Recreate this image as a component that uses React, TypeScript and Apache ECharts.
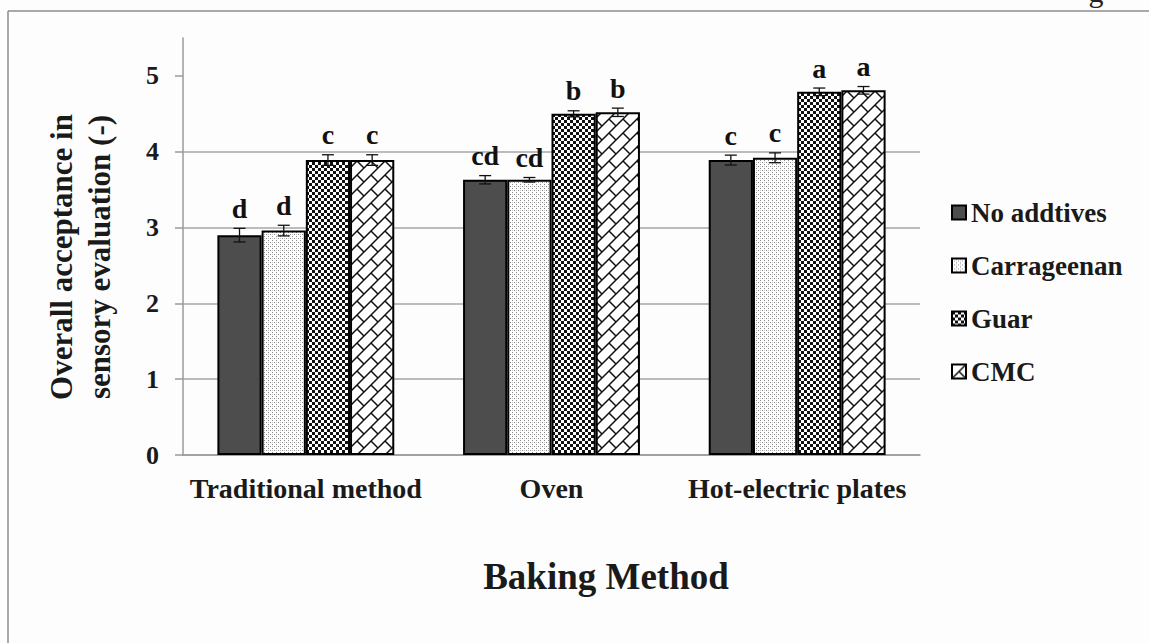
import React, { useEffect, useRef } from "react";
import * as echarts from "echarts";

const categories = ["Traditional method", "Oven", "Hot-electric plates"];
const seriesNames = ["No addtives", "Carrageenan", "Guar", "CMC"];

const noAdditives = [2.9, 3.63, 3.89];
const carrageenan = [2.96, 3.63, 3.92];
const guar = [3.89, 4.5, 4.79];
const cmc = [3.89, 4.52, 4.81];

const noAdditivesErr = [0.09, 0.055, 0.065];
const carrageenanErr = [0.07, 0.03, 0.065];
const guarErr = [0.07, 0.04, 0.05];
const cmcErr = [0.07, 0.055, 0.05];

const noAdditivesLetters = ["d", "cd", "c"];
const carrageenanLetters = ["d", "cd", "c"];
const guarLetters = ["c", "b", "a"];
const cmcLetters = ["c", "b", "a"];

const yTicks = [0, 1, 2, 3, 4, 5];
const yMax = 5.5;

const FONT = '"Liberation Serif", "Times New Roman", serif';
const GAP = 0.28;

function makeCanvas(size: number, draw: (ctx: CanvasRenderingContext2D) => void) {
  const c = document.createElement("canvas");
  c.width = size;
  c.height = size;
  const ctx = c.getContext("2d")!;
  ctx.fillStyle = "#ffffff";
  ctx.fillRect(0, 0, size, size);
  draw(ctx);
  return c;
}

function pattern(c: HTMLCanvasElement) {
  return { image: c.toDataURL(), repeat: "repeat", imageWidth: c.width, imageHeight: c.height } as any;
}

export default function App() {
  const ref = useRef<HTMLDivElement>(null);
  useEffect(() => {
    if (!ref.current) return;
    const chart = echarts.init(ref.current, undefined, { renderer: "svg" });

    const dotted = makeCanvas(4, (ctx) => {
      ctx.fillStyle = "#8a8a8a";
      ctx.fillRect(0, 0, 1, 1);
      ctx.fillRect(2, 2, 1, 1);
      ctx.fillStyle = "#c8c8c8";
      ctx.fillRect(0, 2, 1, 1);
    });
    const checker = makeCanvas(6, (ctx) => {
      ctx.fillStyle = "#111111";
      ctx.fillRect(0, 0, 3, 3);
      ctx.fillRect(3, 3, 3, 3);
    });
    const brick = makeCanvas(14, (ctx) => {
      ctx.strokeStyle = "#111111";
      ctx.lineWidth = 1.5;
      ctx.beginPath();
      ctx.moveTo(-7, 7);
      ctx.lineTo(7, -7);
      ctx.moveTo(-1, 15);
      ctx.lineTo(15, -1);
      ctx.moveTo(7, 21);
      ctx.lineTo(21, 7);
      ctx.moveTo(7, 7);
      ctx.lineTo(14, 14);
      ctx.stroke();
    });

    const fills = ["#4d4d4d", pattern(dotted), pattern(checker), pattern(brick)];
    const values = [noAdditives, carrageenan, guar, cmc];
    const errors = [noAdditivesErr, carrageenanErr, guarErr, cmcErr];
    const letters = [noAdditivesLetters, carrageenanLetters, guarLetters, cmcLetters];

    const errData: number[][] = [];
    const errLetters: string[] = [];
    values.forEach((vals, s) => {
      vals.forEach((v, c) => {
        errData.push([c, v, errors[s][c], s]);
        errLetters.push(letters[s][c]);
      });
    });

    const barSeries = seriesNames.map((name, s) => ({
      name,
      type: "bar",
      data: values[s],
      barGap: "0%",
      barCategoryGap: GAP * 100 + "%",
      itemStyle: { color: fills[s], borderColor: "#000000", borderWidth: 2 },
      z: 2,
    }));

    const option: any = {
      animation: false,
      backgroundColor: "#fdfdfd",
      grid: { left: 183, right: 229, top: 38, bottom: 188 },
      legend: {
        orient: "vertical",
        left: 951,
        top: 199,
        itemGap: 26,
        itemWidth: 14,
        itemHeight: 14,
        padding: 0,
        icon: "rect",
        data: seriesNames,
        textStyle: { fontFamily: FONT, fontWeight: "bold", fontSize: 27, color: "#1a1a1a" },
      },
      xAxis: {
        type: "category",
        data: categories,
        axisLine: { show: true, lineStyle: { color: "#9a9a9a", width: 1.5 } },
        axisTick: { show: false },
        axisLabel: { fontFamily: FONT, fontWeight: "bold", fontSize: 28, color: "#1a1a1a", margin: 19, interval: 0 },
        splitLine: { show: false },
      },
      yAxis: {
        type: "value",
        min: 0,
        max: yMax,
        interval: 1,
        axisLine: { show: true, lineStyle: { color: "#9a9a9a", width: 1.5 } },
        axisTick: { show: true, length: 8, customValues: yTicks, lineStyle: { color: "#9a9a9a", width: 1.5 } },
        axisLabel: {
          customValues: yTicks,
          fontFamily: FONT,
          fontWeight: "bold",
          fontSize: 26,
          color: "#1a1a1a",
          margin: 24,
        },
        splitLine: { show: true, showMaxLine: false, lineStyle: { color: "#a6a6a6", width: 1.5 } },
      },
      graphic: [
        { type: "line", shape: { x1: 8, y1: 11, x2: 1149, y2: 11 }, style: { stroke: "#8c8c8c", lineWidth: 1.5 } },
        { type: "line", shape: { x1: 8, y1: 11, x2: 8, y2: 643 }, style: { stroke: "#8c8c8c", lineWidth: 1.5 } },
        {
          type: "text",
          x: 1096,
          y: 6,
          style: { text: "g", font: '30px "Liberation Serif"', fill: "#222", textAlign: "center", textVerticalAlign: "bottom" },
        },
        {
          type: "text",
          x: 80,
          y: 257,
          rotation: Math.PI / 2,
          style: {
            text: "Overall acceptance in\nsensory evaluation (-)",
            font: 'bold 31px "Liberation Serif"',
            lineHeight: 38,
            fill: "#1a1a1a",
            textAlign: "center",
            textVerticalAlign: "middle",
          },
        },
        {
          type: "text",
          x: 606,
          y: 576,
          style: {
            text: "Baking Method",
            font: 'bold 37px "Liberation Serif"',
            fill: "#1a1a1a",
            textAlign: "center",
            textVerticalAlign: "middle",
          },
        },
      ],
      series: [
        ...barSeries,
        {
          type: "custom",
          z: 5,
          silent: true,
          data: errData,
          encode: { x: 0, y: 1 },
          renderItem: (params: any, api: any) => {
            const c = api.value(0);
            const v = api.value(1);
            const e = api.value(2);
            const s = api.value(3);
            const band = api.size([1, 0])[0];
            const bw = (band * (1 - GAP)) / 4;
            const cx = api.coord([c, v])[0] + (s - 1.5) * bw;
            const yTop = api.coord([c, v + e])[1];
            const yBot = api.coord([c, v - e])[1];
            const cap = 6;
            const ls = { stroke: "#111", lineWidth: 1.3 };
            return {
              type: "group",
              children: [
                { type: "line", shape: { x1: cx, y1: yTop, x2: cx, y2: yBot }, style: ls },
                { type: "line", shape: { x1: cx - cap, y1: yTop, x2: cx + cap, y2: yTop }, style: ls },
                { type: "line", shape: { x1: cx - cap, y1: yBot, x2: cx + cap, y2: yBot }, style: ls },
                {
                  type: "text",
                  x: cx,
                  y: yTop - 6,
                  style: {
                    text: errLetters[params.dataIndex],
                    font: 'bold 28px "Liberation Serif"',
                    fill: "#111",
                    textAlign: "center",
                    textVerticalAlign: "bottom",
                  },
                },
              ],
            };
          },
        },
      ],
    };
    chart.setOption(option);
    return () => chart.dispose();
  }, []);
  return <div ref={ref} style={{ position: "fixed", left: 0, top: 0, width: 1149, height: 643 }} />;
}
